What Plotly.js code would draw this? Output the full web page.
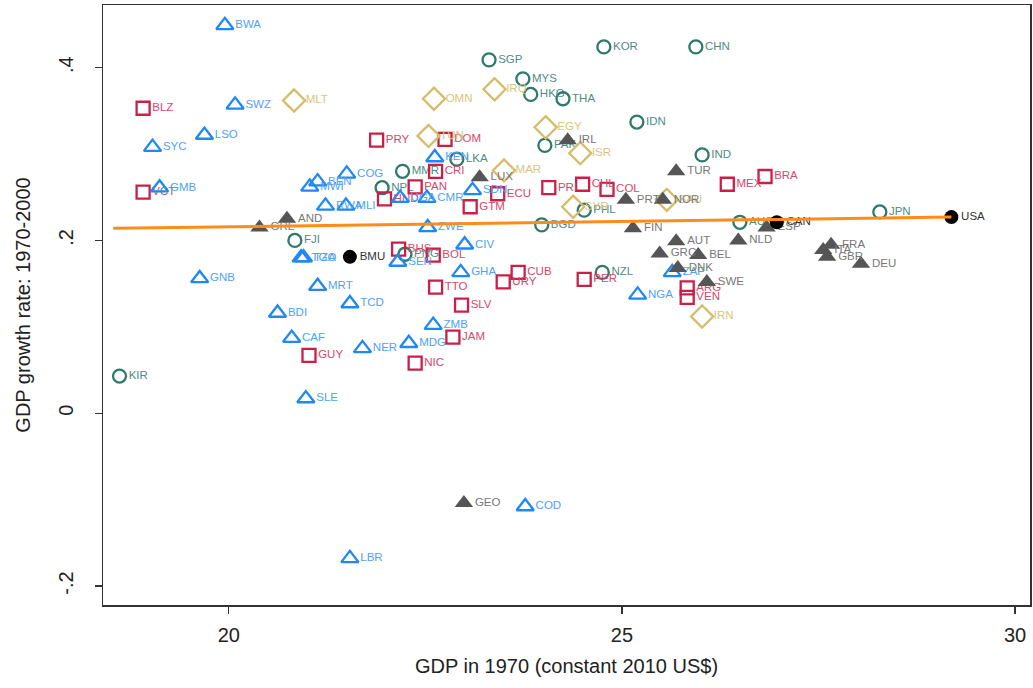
<!DOCTYPE html>
<html><head><meta charset="utf-8">
<script src="https://cdn.plot.ly/plotly-2.35.2.min.js"></script>
<style>html,body{margin:0;padding:0;background:#fff}#chart{width:1033px;height:688px}</style>
</head><body><div id="chart"></div>
<script>
// Sub-Saharan Africa (blue open triangles)
const afrNames = ["BWA","SWZ","LSO","SYC","GMB","GNB","BEN","MWI","COG","RWA","MLI","UGA","CMR","KEN","SDN","ZWE","CIV","SEN","GHA","TGO","TZA","MRT","TCD","BDI","CAF","NER","MDG","ZMB","SLE","LBR","COD","NGA","ZAF"];
const afrX = [19.95,20.08,19.69,19.03,19.12,19.63,21.13,21.03,21.50,21.23,21.49,22.18,22.52,22.62,23.10,22.53,23.00,22.15,22.95,20.92,20.95,21.13,21.54,20.62,20.80,21.70,22.29,22.60,20.98,21.54,23.77,25.20,25.64];
const afrY = [0.449,0.357,0.322,0.308,0.261,0.156,0.268,0.262,0.277,0.240,0.240,0.249,0.249,0.296,0.258,0.215,0.195,0.175,0.163,0.180,0.180,0.147,0.127,0.116,0.087,0.075,0.081,0.102,0.017,-0.168,-0.108,0.137,0.163];

// Latin America (red open squares)
const latNames = ["BLZ","VCT","PRY","DOM","CRI","PAN","HND","GTM","ECU","PRI","CHL","COL","MEX","BRA","BHS","BOL","TTO","SLV","JAM","NIC","GUY","URY","CUB","PER","ARG","VEN"];
const latX = [18.91,18.91,21.88,22.75,22.63,22.37,21.98,23.07,23.42,24.07,24.50,24.81,26.34,26.82,22.16,22.60,22.63,22.96,22.85,22.37,21.02,23.49,23.68,24.52,25.83,25.83];
const latY = [0.353,0.256,0.316,0.317,0.280,0.262,0.248,0.239,0.254,0.261,0.265,0.259,0.265,0.274,0.190,0.183,0.146,0.125,0.088,0.058,0.067,0.152,0.163,0.155,0.145,0.134];

// Asia-Pacific (teal open circles)
const asiaNames = ["SGP","MYS","HKG","THA","KOR","CHN","IDN","PAK","LKA","IND","MMR","NPL","FJI","BGD","PHL","NZL","AUS","JPN","KIR","PNG"];
const asiaX = [23.31,23.74,23.84,24.25,24.77,25.94,25.19,24.02,22.90,26.02,22.21,21.95,20.84,23.98,24.52,24.75,26.50,28.28,18.61,22.24];
const asiaY = [0.409,0.387,0.369,0.364,0.424,0.424,0.337,0.310,0.294,0.299,0.280,0.261,0.200,0.218,0.235,0.163,0.221,0.233,0.043,0.184];

// Middle East & North Africa (tan open diamonds)
const menaNames = ["MLT","OMN","IRQ","EGY","TUN","ISR","MAR","SYR","SAU","IRN"];
const menaX = [20.83,22.61,23.38,24.03,22.54,24.47,23.50,24.38,25.57,26.02];
const menaY = [0.362,0.364,0.375,0.331,0.321,0.301,0.281,0.239,0.247,0.112];

// Europe (grey filled triangles)
const eurNames = ["IRL","LUX","GRL","AND","TUR","PRT","NOR","FIN","AUT","GRC","BEL","DNK","SWE","NLD","ESP","FRA","ITA","GBR","DEU","GEO"];
const eurX = [24.31,23.19,20.39,20.74,25.69,25.05,25.52,25.14,25.69,25.48,25.97,25.71,26.08,26.48,26.84,27.66,27.56,27.61,28.04,22.99];
const eurY = [0.316,0.273,0.215,0.225,0.280,0.247,0.247,0.214,0.199,0.185,0.183,0.168,0.152,0.200,0.215,0.195,0.189,0.181,0.173,-0.104];

// North America & Bermuda (black filled circles)
const namNames = ["BMU","CAN","USA"];
const namX = [21.54,26.97,29.19];
const namY = [0.181,0.221,0.227];

// Fitted line
const fitX = [18.53, 29.19];
const fitY = [0.214, 0.227];

function grp(names, x, y, symbol, mcol, tcol, size, filled){
  return {
    type:'scatter', mode:'markers+text', x:x, y:y, text:names,
    textposition:'middle right',
    textfont:{family:'Liberation Sans, Arial, sans-serif', size:11.5, color:tcol},
    marker:{symbol:symbol, size:size, color: filled ? mcol : 'rgba(255,255,255,0)',
            line:{color:mcol, width: filled ? 0 : 2.3}},
    hoverinfo:'text', showlegend:false, cliponaxis:false
  };
}

const traces = [
  grp(asiaNames, asiaX, asiaY, 'circle', '#2F7A6C', '#4E8C83', 13, false),
  grp(latNames, latX, latY, 'square', '#CC1F48', '#D2496A', 13, false),
  grp(menaNames, menaX, menaY, 'diamond', '#D6BC6A', '#D9C47E', 17, false),
  grp(afrNames, afrX, afrY, 'triangle-up', '#1E88F5', '#4FA2F7', 15, false),
  grp(eurNames, eurX, eurY, 'triangle-up', '#555555', '#777777', 16, true),
  grp(namNames, namX, namY, 'circle', '#000000', '#333333', 14, true),
  {type:'scatter', mode:'lines', x:fitX, y:fitY, line:{color:'#FF8C1A', width:3}, hoverinfo:'skip', showlegend:false}
];

const layout = {
  width:1033, height:688,
  margin:{l:103, r:3, t:5, b:83},
  paper_bgcolor:'#fff', plot_bgcolor:'#fff',
  font:{family:'Liberation Sans, Arial, sans-serif', color:'#222'},
  xaxis:{range:[18.40,30.19], tickvals:[20,25,30], ticktext:['20','25','30'],
    ticks:'outside', ticklen:7, tickwidth:1.2, tickcolor:'#333',
    showgrid:false, zeroline:false, showline:true, mirror:true, linecolor:'#333', linewidth:1.5,
    tickfont:{size:20, color:'#222'}, ticklabelstandoff:4,
    title:{text:'GDP in 1970 (constant 2010 US$)', font:{size:20, color:'#222'}, standoff:14}},
  yaxis:{range:[-0.222,0.4725], tickvals:[-0.2,0,0.2,0.4], ticktext:['-.2','0','.2','.4'],
    tickangle:-90,
    ticks:'outside', ticklen:7, tickwidth:1.2, tickcolor:'#333',
    showgrid:false, zeroline:false, showline:true, mirror:true, linecolor:'#333', linewidth:1.5,
    tickfont:{size:20, color:'#222'}, ticklabelstandoff:14,
    title:{text:'GDP growth rate: 1970-2000', font:{size:20, color:'#222'}, standoff:18}}
};

Plotly.newPlot('chart', traces, layout, {displayModeBar:false, staticPlot:true});
</script>
</body></html>
